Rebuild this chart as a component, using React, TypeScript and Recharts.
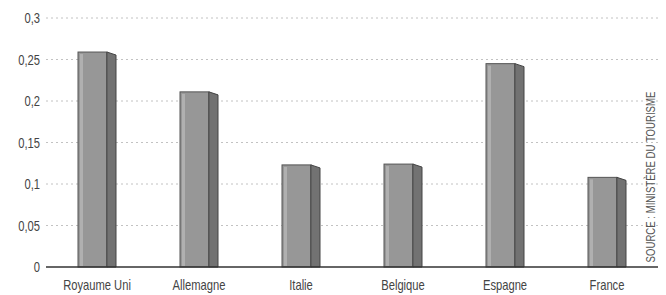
import { BarChart, Bar, XAxis, YAxis, CartesianGrid } from 'recharts';

const countries = ['Royaume Uni', 'Allemagne', 'Italie', 'Belgique', 'Espagne', 'France'];
const shares = [0.259, 0.211, 0.123, 0.124, 0.245, 0.108];
const yTicks = [0, 0.05, 0.1, 0.15, 0.2, 0.25, 0.3];

const data = countries.map((name, i) => ({ name, value: shares[i] }));

const FONT = '"Liberation Sans", Arial, sans-serif';
const SQUEEZE = 0.8;

function Bar3D(props: any) {
    const { x, y, width, height } = props;
    if (!height || height <= 0) return null;
    const front = width * 0.76;
    const fx2 = x + front;
    const slant = 3;
    return (
        <g>
            <rect x={x} y={y} width={front} height={height} fill="#979797" stroke="#555" strokeWidth={1} />
            <rect x={x + 2} y={y + 2} width={3} height={height - 3} fill="#b0b0b0" />
            <polygon
                points={`${fx2},${y} ${x + width},${y + slant} ${x + width},${y + height} ${fx2},${y + height}`}
                fill="#727272"
                stroke="#444"
                strokeWidth={1}
            />
        </g>
    );
}

function YTick(props: any) {
    const { y, payload } = props;
    const label = String(payload.value).replace('.', ',');
    return (
        <text transform={`translate(40 ${y + 5}) scale(${SQUEEZE} 1)`} textAnchor="end" fontFamily={FONT} fontSize={14} fill="#444">
            {label}
        </text>
    );
}

function XTick(props: any) {
    const { x, y, payload } = props;
    return (
        <text transform={`translate(${x} ${y + 13}) scale(${SQUEEZE} 1)`} textAnchor="middle" fontFamily={FONT} fontSize={14} fill="#444">
            {payload.value}
        </text>
    );
}

export default function App() {
    return (
        <div style={{ position: 'absolute', left: 0, top: 0, width: 666, height: 295, background: '#fff' }}>
            <BarChart
                width={666}
                height={295}
                data={data}
                margin={{ top: 18, right: 8, bottom: 0, left: 0 }}
                barCategoryGap={0}
            >
                <CartesianGrid vertical={false} stroke="#c2c2c2" strokeDasharray="2 3" horizontalValues={[0.05, 0.1, 0.15, 0.2, 0.25, 0.3]} />
                <YAxis
                    domain={[0, 0.3]}
                    ticks={yTicks}
                    width={46}
                    axisLine={false}
                    tickLine={false}
                    tick={<YTick />}
                    interval={0}
                />
                <XAxis
                    dataKey="name"
                    height={28}
                    axisLine={{ stroke: '#333', strokeWidth: 1.5 }}
                    tickLine={false}
                    tickMargin={4}
                    interval={0}
                    tick={<XTick />}
                />
                <Bar dataKey="value" barSize={38} shape={<Bar3D />} isAnimationActive={false} />
                <text
                    transform={`translate(655 177) rotate(-90) scale(${SQUEEZE} 1)`}
                    textAnchor="middle"
                    fontFamily={FONT}
                    fontSize={12}
                    fill="#555"
                >
                    SOURCE : MINISTÈRE DU TOURISME
                </text>
            </BarChart>
        </div>
    );
}
